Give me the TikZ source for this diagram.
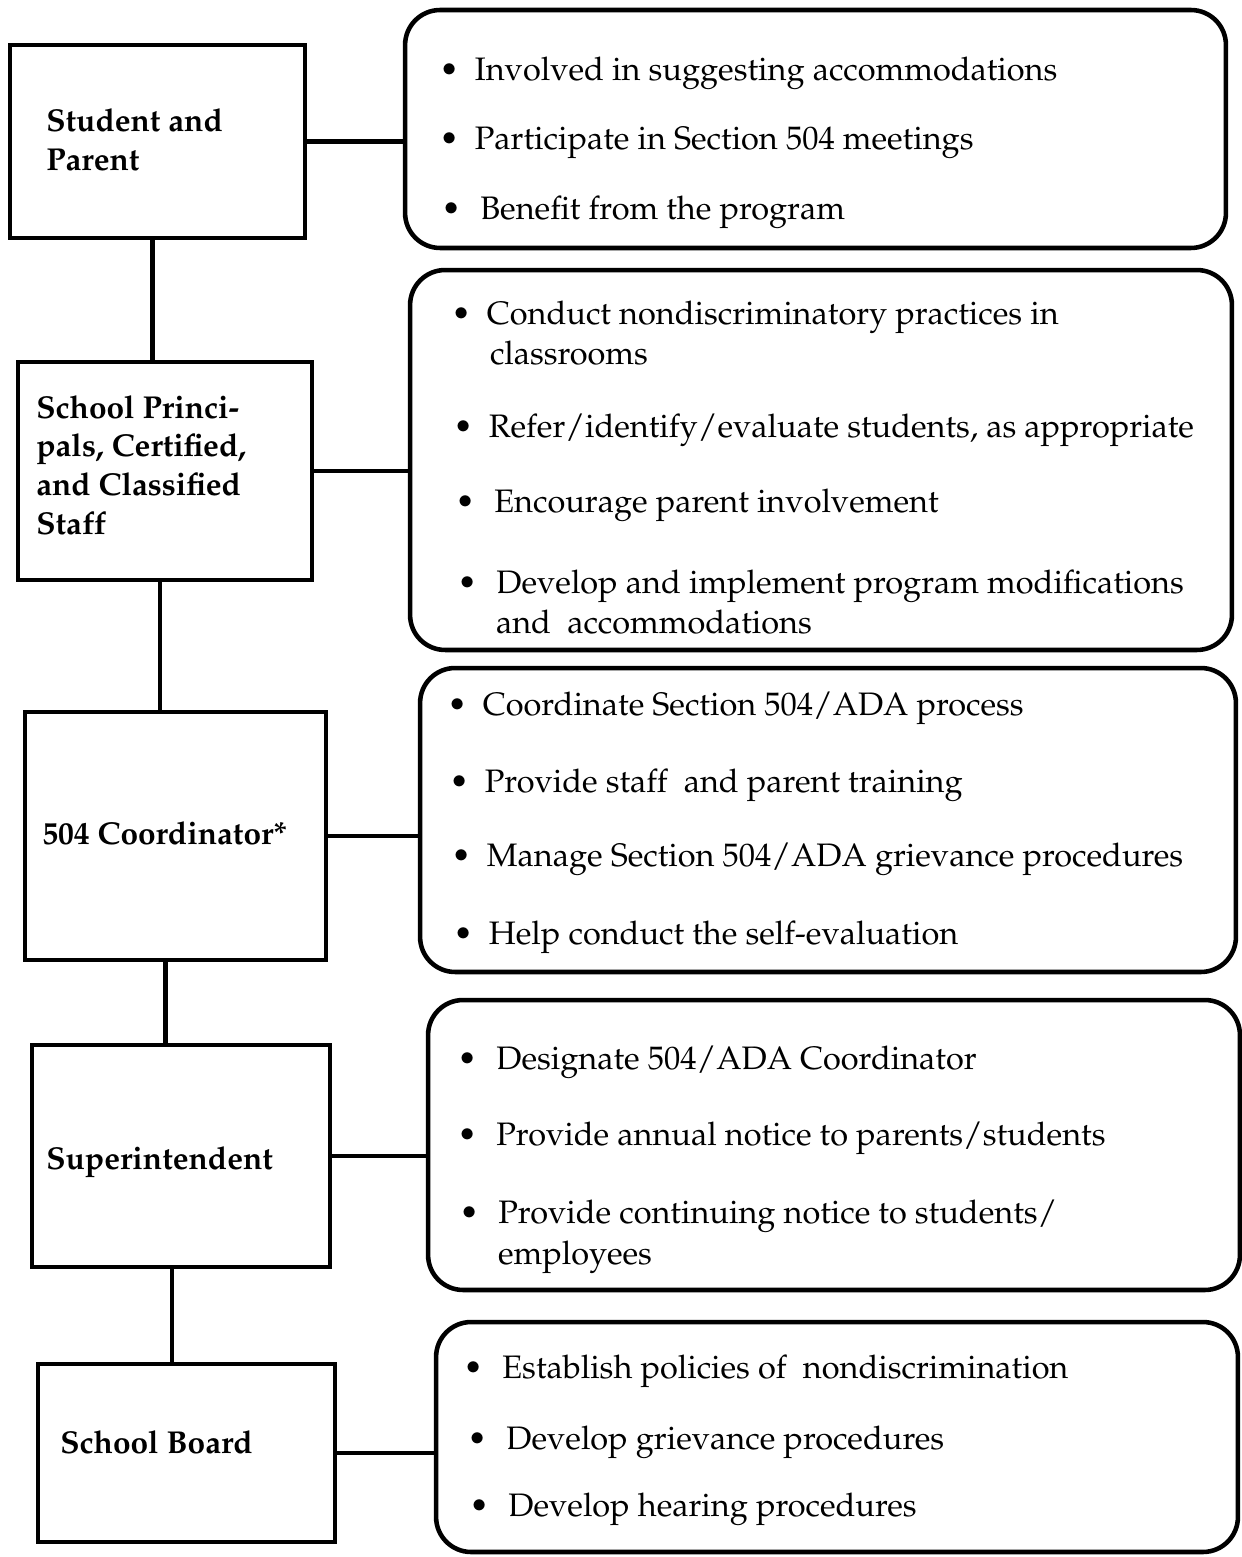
\documentclass[tikz,border=0pt]{standalone}
\usepackage[T1]{fontenc}
\usepackage{mathpazo}
\usetikzlibrary{positioning}

\begin{document}
\begin{tikzpicture}[x=0.02cm,y=-0.02cm,
                    role/.style={draw,line width=2.6pt,inner sep=0pt},
                    duty/.style={draw,line width=2.6pt,rounded corners=0.7cm,inner sep=0pt},
                    who/.style={anchor=west,align=left,inner sep=0pt,
                                font=\fontsize{18}{22}\selectfont\bfseries},
                    itm/.style={anchor=west,align=left,inner sep=0pt,
                                font=\fontsize{18.5}{23}\selectfont},
                    link/.style={line width=2.6pt}]
  \useasboundingbox (0,0) rectangle (1241,1557);

  % left column
  \node[role,minimum width=5.9cm,minimum height=3.86cm]  (sp) at (157.5,141.5) {};
  \node[role,minimum width=5.88cm,minimum height=4.36cm] (pr) at (165,471) {};
  \node[role,minimum width=6.02cm,minimum height=4.96cm] (co) at (175.5,836) {};
  \node[role,minimum width=5.96cm,minimum height=4.44cm] (su) at (181,1156) {};
  \node[role,minimum width=5.94cm,minimum height=3.56cm] (sb) at (186.5,1453) {};

  \node[who] (spl) at (46,140)  {Student and\\Parent};
  \node[who] (prl) at (36,465)  {School Princi-\\pals, Certified,\\and Classified\\Staff};
  \node[who] (col) at (42,833)  {504 Coordinator*};
  \node[who] (sul) at (46,1162) {Superintendent};
  \node[who] (sbl) at (60,1442) {School Board};

  % right column
  \node[duty,minimum width=16.42cm,minimum height=4.76cm] (d1) at (815.5,129) {};
  \node[duty,minimum width=16.44cm,minimum height=7.6cm]  (d2) at (821,460) {};
  \node[duty,minimum width=16.32cm,minimum height=6.08cm] (d3) at (828,820) {};
  \node[duty,minimum width=16.24cm,minimum height=5.8cm]  (d4) at (834,1145) {};
  \node[duty,minimum width=16.04cm,minimum height=4.6cm]  (d5) at (837,1437) {};

  \node[itm] (d1a) at (439,73)  {\textbullet\hspace{9pt}Involved in suggesting accommodations};
  \node[itm] (d1b) at (439,143) {\textbullet\hspace{9pt}Participate in Section 504 meetings};
  \node[itm] (d1c) at (441,212) {\textbullet\hspace{11pt}Benefit from the program};

  \node[itm] (d2a) at (451,333) {\textbullet\hspace{9pt}Conduct nondiscriminatory practices in\\\hspace{22pt}classrooms};
  \node[itm] (d2b) at (453,430) {\textbullet\hspace{9pt}Refer/identify/evaluate students, as appropriate};
  \node[itm] (d2c) at (455,505) {\textbullet\hspace{11pt}Encourage parent involvement};
  \node[itm] (d2d) at (457,602) {\textbullet\hspace{11pt}Develop and implement program modifications\\\hspace{22pt}and\ \ accommodations};

  \node[itm] (d3a) at (447,708) {\textbullet\hspace{9pt}Coordinate Section 504/ADA process};
  \node[itm] (d3b) at (449,785) {\textbullet\hspace{9pt}Provide staff\ \ and parent training};
  \node[itm] (d3c) at (451,859) {\textbullet\hspace{9pt}Manage Section 504/ADA grievance procedures};
  \node[itm] (d3d) at (453,937) {\textbullet\hspace{9pt}Help conduct the self-evaluation};

  \node[itm] (d4a) at (457,1062) {\textbullet\hspace{11pt}Designate 504/ADA Coordinator};
  \node[itm] (d4b) at (457,1138) {\textbullet\hspace{11pt}Provide annual notice to parents/students};
  \node[itm] (d4c) at (459,1237) {\textbullet\hspace{11pt}Provide continuing notice to students/\\\hspace{22pt}employees};

  \node[itm] (d5a) at (463,1371) {\textbullet\hspace{11pt}Establish policies of\ \ nondiscrimination};
  \node[itm] (d5b) at (467,1442) {\textbullet\hspace{11pt}Develop grievance procedures};
  \node[itm] (d5c) at (469,1509) {\textbullet\hspace{11pt}Develop hearing procedures};

  % connectors
  \draw[link] (sp.east) -- (sp.east -| d1.west);
  \draw[link] (pr.east) -- (pr.east -| d2.west);
  \draw[link] (co.east) -- (co.east -| d3.west);
  \draw[link] (su.east) -- (su.east -| d4.west);
  \draw[link] (sb.east) -- (sb.east -| d5.west);

  \draw[link] ([xshift=-0.1cm]sp.south) -- ([xshift=-0.1cm]sp.south |- pr.north);
  \draw[link] ([xshift=-0.1cm]pr.south) -- ([xshift=-0.1cm]pr.south |- co.north);
  \draw[link] ([xshift=-0.2cm]co.south) -- ([xshift=-0.2cm]co.south |- su.north);
  \draw[link] ([xshift=-0.18cm]su.south) -- ([xshift=-0.18cm]su.south |- sb.north);
\end{tikzpicture}
\end{document}
